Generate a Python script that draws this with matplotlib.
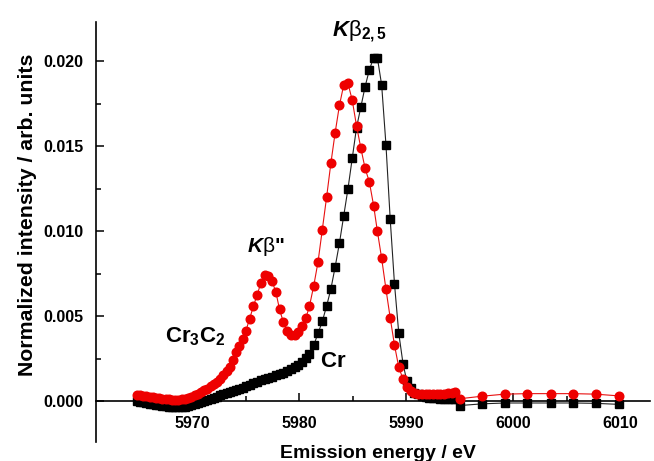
import matplotlib
matplotlib.use("Agg")
import matplotlib.pyplot as plt
from matplotlib.ticker import MultipleLocator, FormatStrFormatter

plt.rcParams['font.family'] = ['Liberation Sans', 'DejaVu Sans']
plt.rcParams['mathtext.fontset'] = 'custom'
plt.rcParams['mathtext.rm'] = 'Liberation Sans'
plt.rcParams['mathtext.it'] = 'Liberation Sans:italic:bold'
plt.rcParams['mathtext.bf'] = 'Liberation Sans:bold'

energy = [5964.8, 5965.1, 5965.4, 5965.7, 5966.0, 5966.3, 5966.6, 5966.9, 5967.2, 5967.5,
          5967.8, 5968.1, 5968.4, 5968.7, 5969.0, 5969.3, 5969.6, 5969.9, 5970.2, 5970.5,
          5970.8, 5971.1, 5971.4, 5971.7, 5972.0, 5972.3, 5972.6, 5972.9, 5973.2, 5973.5,
          5973.8, 5974.1, 5974.4, 5974.7, 5975.0, 5975.35, 5975.7, 5976.05, 5976.4, 5976.75,
          5977.1, 5977.45, 5977.8, 5978.15, 5978.5, 5978.85, 5979.2, 5979.55, 5979.9, 5980.25,
          5980.6, 5980.95, 5981.35, 5981.75, 5982.15, 5982.55, 5982.95, 5983.35, 5983.75, 5984.15,
          5984.55, 5984.95, 5985.35, 5985.75, 5986.15, 5986.55, 5986.95, 5987.3, 5987.7, 5988.1,
          5988.5, 5988.9, 5989.3, 5989.7, 5990.05, 5990.4, 5990.75, 5991.1, 5991.45, 5991.8,
          5992.15, 5992.5, 5992.85, 5993.2, 5993.55, 5993.9, 5994.25, 5994.6,
          5995.0, 5997.1, 5999.2, 6001.3, 6003.5, 6005.6, 6007.7, 6009.85]

cr = [0.00003, -0.00002, -0.00006, -0.0001, -0.00013, -0.00016, -0.0002, -0.00023, -0.00026, -0.00029,
      -0.00031, -0.00032, -0.00033, -0.00033, -0.00033, -0.00031, -0.00029, -0.00024, -0.00017, -0.0001,
      -0.00004, 0.00003, 0.0001, 0.00016, 0.00022, 0.00028, 0.00035, 0.0004, 0.00046, 0.00052,
      0.00058, 0.00065, 0.00072, 0.0008, 0.00088, 0.00097, 0.00106, 0.00115, 0.00123, 0.0013,
      0.00136, 0.00145, 0.00152, 0.00158, 0.00168, 0.00178, 0.00188, 0.002, 0.00215, 0.00232,
      0.00255, 0.0028, 0.0033, 0.0040, 0.0047, 0.0056, 0.0066, 0.0079, 0.0093, 0.0109,
      0.0125, 0.0143, 0.0161, 0.0173, 0.0185, 0.0195, 0.0202, 0.0202, 0.0186, 0.0151,
      0.0107, 0.0069, 0.0040, 0.0022, 0.0012, 0.0008, 0.0005, 0.0004, 0.0003, 0.00025,
      0.0002, 0.0002, 0.00018, 0.00016, 0.00015, 0.00015, 0.00015, 0.00014,
      -0.00025, -0.00015, -0.0001, -0.0001, -0.0001, -0.0001, -0.00012, -0.00018]

cr3c2 = [0.00038, 0.00036, 0.00034, 0.00031, 0.00028, 0.00025, 0.00022, 0.00019, 0.00016, 0.00014,
         0.00012, 0.0001, 0.0001, 0.0001, 0.00012, 0.00015, 0.0002, 0.00027, 0.00035, 0.00044,
         0.00054, 0.00064, 0.00075, 0.00087, 0.001, 0.00114, 0.0013, 0.00153, 0.00178, 0.00203,
         0.00245, 0.0029, 0.00325, 0.00365, 0.00414, 0.00485, 0.00558, 0.00625, 0.00695, 0.0074,
         0.00735, 0.00705, 0.00645, 0.0054, 0.00467, 0.00415, 0.00392, 0.00388, 0.0041, 0.00445,
         0.00487, 0.0056, 0.0068, 0.0082, 0.0101, 0.0120, 0.0140, 0.0158, 0.0174, 0.0186,
         0.0187, 0.0177, 0.0162, 0.0149, 0.0137, 0.0129, 0.0115, 0.0100, 0.0084, 0.0066,
         0.0049, 0.0033, 0.0020, 0.0013, 0.00085, 0.0006, 0.0005, 0.00045, 0.00042, 0.0004,
         0.0004, 0.0004, 0.0004, 0.00042, 0.00044, 0.00047, 0.0005, 0.00052,
         0.00015, 0.0003, 0.00042, 0.00045, 0.00045, 0.00045, 0.00042, 0.00032]

xticks = [5970, 5980, 5990, 6000, 6010]
yticks = [0.000, 0.005, 0.010, 0.015, 0.020]

fig = plt.figure(figsize=(6.54, 4.61), dpi=100)
ax = fig.add_axes([0.147, 0.041, 0.847, 0.911])

ax.plot(energy, cr, color='#222222', lw=0.8, marker='s', ms=5.2,
        mfc='black', mec='black', zorder=3)
ax.plot(energy, cr3c2, color='#e81010', lw=0.8, marker='o', ms=6.2,
        mfc='#ee0000', mec='#ee0000', zorder=4)

ax.set_xlim(5961.0, 6012.8)
ax.set_ylim(-0.0024, 0.0223)

ax.spines['top'].set_visible(False)
ax.spines['right'].set_visible(False)
ax.spines['bottom'].set_position(('data', 0))
for s in ('left', 'bottom'):
    ax.spines[s].set_linewidth(1.2)
    ax.spines[s].set_zorder(2)

ax.set_xticks(xticks)
ax.set_yticks(yticks)
ax.xaxis.set_minor_locator(MultipleLocator(5))
ax.yaxis.set_minor_locator(MultipleLocator(0.0025))
ax.yaxis.set_major_formatter(FormatStrFormatter('%.3f'))
ax.tick_params(which='both', direction='in', width=1.1)
ax.tick_params(which='major', length=6)
ax.tick_params(which='minor', length=3.5)
ax.tick_params(axis='x', which='major', pad=10.5, labelsize=11.5)
ax.tick_params(axis='y', which='major', pad=9, labelsize=11.5)
for lab in ax.get_xticklabels() + ax.get_yticklabels():
    lab.set_fontweight('bold')

fig.text(0.578, 0.0065, 'Emission energy / eV', ha='center', va='baseline',
         fontsize=14, fontweight='bold')
fig.text(0.042, 0.535, 'Normalized intensity / arb. units', ha='center', va='center',
         rotation=90, fontsize=15.3, fontweight='bold')

ax.text(5985.6, 0.02147, r'$K\mathrm{\beta}_{\mathbf{2,5}}$', ha='center', va='baseline',
        fontsize=16)
ax.text(5976.9, 0.0091, r'$K\mathrm{\beta}$"', ha='center', va='center',
        fontsize=15, fontweight='bold')
ax.text(5970.3, 0.00347, r'$\mathbf{Cr}_{\mathbf{3}}\mathbf{C}_{\mathbf{2}}$', ha='center',
        va='baseline', fontsize=16)
ax.text(5983.2, 0.0020, r'$\mathbf{Cr}$', ha='center', va='baseline', fontsize=16)

fig.savefig('out.png', dpi=100)
